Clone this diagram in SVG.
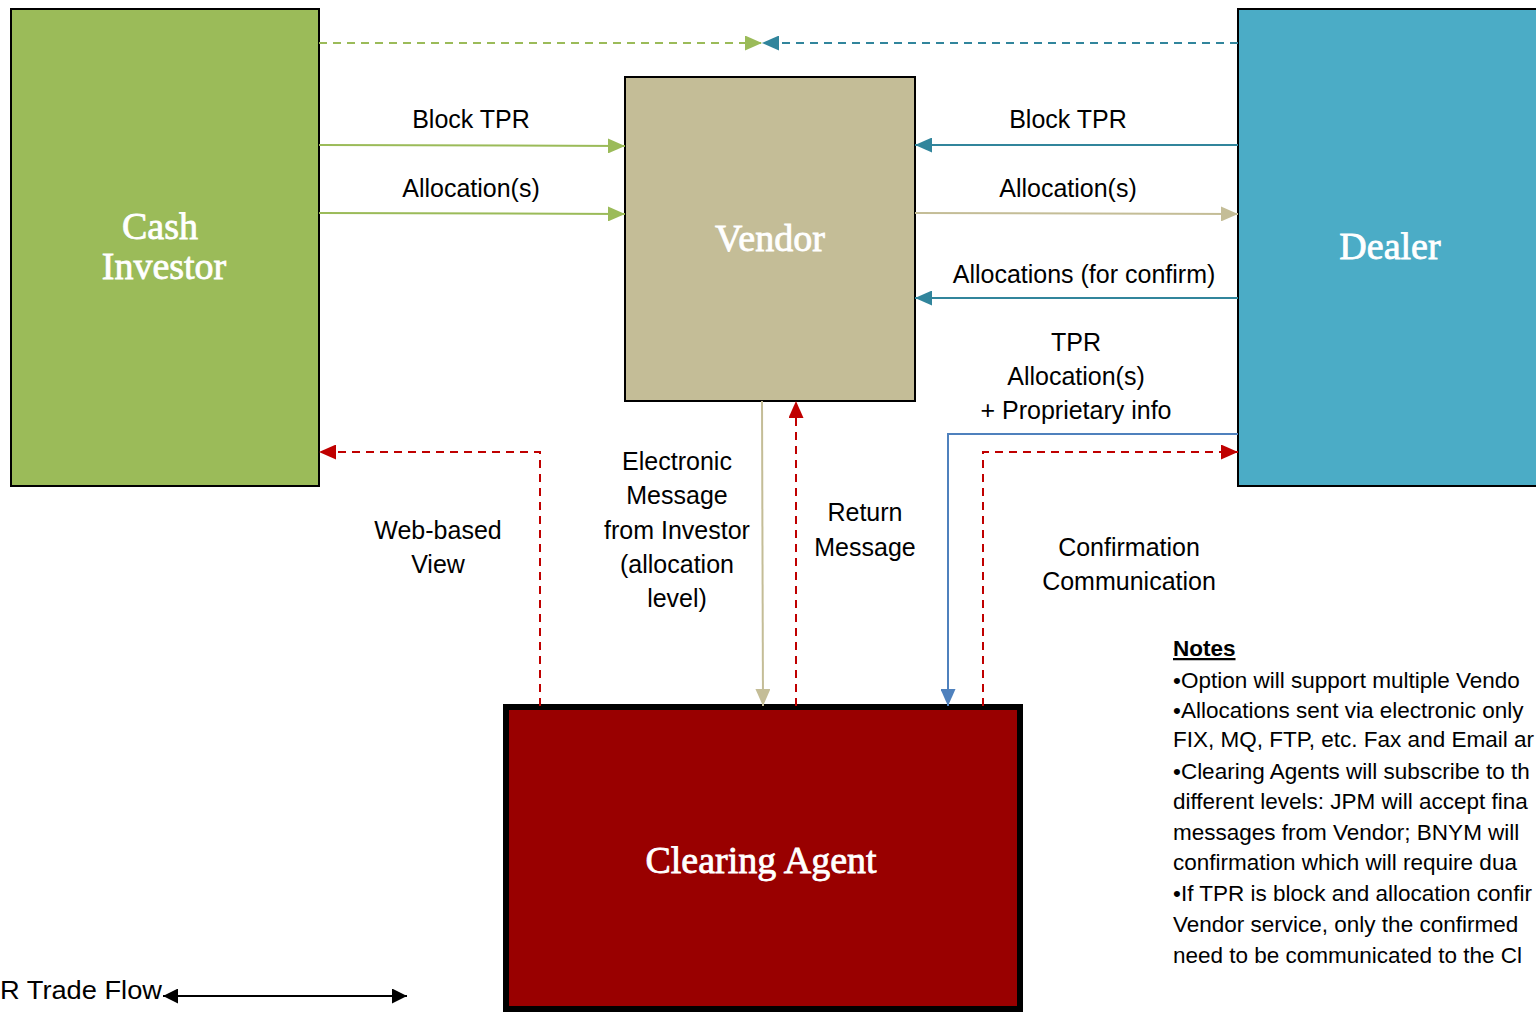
<svg xmlns="http://www.w3.org/2000/svg" width="1536" height="1013" viewBox="0 0 1536 1013">
<defs>
<style>
.title{font-family:"Liberation Serif",serif;font-size:38px;fill:#ffffff;stroke:#ffffff;stroke-width:0.8px;text-anchor:middle}
.lbl{font-family:"Liberation Sans",Arial,sans-serif;font-size:25px;fill:#000;text-anchor:middle}
.note{font-family:"Liberation Sans",Arial,sans-serif;font-size:22.5px;fill:#000}
.box{stroke:#000;stroke-width:2}
.ln{fill:none;stroke-width:2}
.dash{fill:none;stroke-width:2;stroke-dasharray:8 6}
</style>
<marker id="aGreen" viewBox="0 0 10 10" refX="10" refY="5" markerWidth="17" markerHeight="15" markerUnits="userSpaceOnUse" orient="auto" preserveAspectRatio="none"><path d="M0,0 L10,5 L0,10 z" fill="#9bbb59"/></marker>
<marker id="aTeal" viewBox="0 0 10 10" refX="10" refY="5" markerWidth="17" markerHeight="15" markerUnits="userSpaceOnUse" orient="auto" preserveAspectRatio="none"><path d="M0,0 L10,5 L0,10 z" fill="#31859c"/></marker>
<marker id="aTan" viewBox="0 0 10 10" refX="10" refY="5" markerWidth="17" markerHeight="15" markerUnits="userSpaceOnUse" orient="auto" preserveAspectRatio="none"><path d="M0,0 L10,5 L0,10 z" fill="#c4bd97"/></marker>
<marker id="aRed" viewBox="0 0 10 10" refX="10" refY="5" markerWidth="17" markerHeight="15" markerUnits="userSpaceOnUse" orient="auto" preserveAspectRatio="none"><path d="M0,0 L10,5 L0,10 z" fill="#c00000"/></marker>
<marker id="aBlue" viewBox="0 0 10 10" refX="10" refY="5" markerWidth="17" markerHeight="15" markerUnits="userSpaceOnUse" orient="auto" preserveAspectRatio="none"><path d="M0,0 L10,5 L0,10 z" fill="#4f81bd"/></marker>
<marker id="aBlack" viewBox="0 0 10 10" refX="10" refY="5" markerWidth="15" markerHeight="15" markerUnits="userSpaceOnUse" orient="auto" preserveAspectRatio="none"><path d="M0,0 L10,5 L0,10 z" fill="#000"/></marker>
</defs>
<rect width="1536" height="1013" fill="#ffffff"/>

<g id="cash-investor">
<rect class="box" x="11" y="9" width="308" height="477" fill="#9bbb59"/>
<text class="title" x="160" y="239">Cash</text>
<text class="title" x="164" y="279">Investor</text>
</g>
<g id="vendor">
<rect class="box" x="625" y="77" width="290" height="324" fill="#c4bd97"/>
<text class="title" x="770" y="251">Vendor</text>
</g>
<g id="dealer">
<rect class="box" x="1238" y="9" width="310" height="477" fill="#4bacc6"/>
<text class="title" x="1390" y="259">Dealer</text>
</g>
<g id="clearing-agent">
<rect x="506" y="707" width="514" height="302" fill="#990000" stroke="#000" stroke-width="6"/>
<text class="title" x="761" y="873">Clearing Agent</text>
</g>

<g id="connectors">
<line class="dash" x1="319" y1="43" x2="762" y2="43" stroke="#9bbb59" marker-end="url(#aGreen)"/>
<line class="dash" x1="1238" y1="43" x2="762" y2="43" stroke="#31859c" marker-end="url(#aTeal)"/>
<line class="ln" x1="319" y1="145" x2="625" y2="146" stroke="#9bbb59" marker-end="url(#aGreen)"/>
<line class="ln" x1="319" y1="213" x2="625" y2="214" stroke="#9bbb59" marker-end="url(#aGreen)"/>
<line class="ln" x1="1238" y1="145" x2="915" y2="145" stroke="#31859c" marker-end="url(#aTeal)"/>
<line class="ln" x1="915" y1="213" x2="1238" y2="214" stroke="#c4bd97" marker-end="url(#aTan)"/>
<line class="ln" x1="1238" y1="298" x2="915" y2="298" stroke="#31859c" marker-end="url(#aTeal)"/>
<polyline class="ln" points="1238,434 948,434 948,706" stroke="#4f81bd" marker-end="url(#aBlue)"/>
<polyline class="dash" points="983,706 983,452 1238,452" stroke="#c00000" marker-end="url(#aRed)"/>
<polyline class="dash" points="540,706 540,452 319,452" stroke="#c00000" marker-end="url(#aRed)"/>
<line class="ln" x1="762" y1="401" x2="763" y2="706" stroke="#c4bd97" marker-end="url(#aTan)"/>
<line class="dash" x1="796" y1="706" x2="796" y2="401" stroke="#c00000" marker-end="url(#aRed)"/>
<line class="ln" x1="175" y1="996" x2="407" y2="996" stroke="#000" marker-end="url(#aBlack)"/>
<line class="ln" x1="400" y1="996" x2="163" y2="996" stroke="#000" marker-end="url(#aBlack)"/>
</g>

<g id="labels">
<text class="lbl" x="471" y="128">Block TPR</text>
<text class="lbl" x="471" y="197">Allocation(s)</text>
<text class="lbl" x="1068" y="128">Block TPR</text>
<text class="lbl" x="1068" y="197">Allocation(s)</text>
<text class="lbl" x="1084" y="283">Allocations (for confirm)</text>
<text class="lbl" x="1076" y="351">TPR</text>
<text class="lbl" x="1076" y="385">Allocation(s)</text>
<text class="lbl" x="1076" y="419">+ Proprietary info</text>
<text class="lbl" x="438" y="539">Web-based</text>
<text class="lbl" x="438" y="573">View</text>
<text class="lbl" x="677" y="470">Electronic</text>
<text class="lbl" x="677" y="504">Message</text>
<text class="lbl" x="677" y="539">from Investor</text>
<text class="lbl" x="677" y="573">(allocation</text>
<text class="lbl" x="677" y="607">level)</text>
<text class="lbl" x="865" y="521">Return</text>
<text class="lbl" x="865" y="556">Message</text>
<text class="lbl" x="1129" y="556">Confirmation</text>
<text class="lbl" x="1129" y="590">Communication</text>
<text class="lbl" x="0" y="999" style="text-anchor:start" textLength="162" lengthAdjust="spacingAndGlyphs">R Trade Flow</text>
</g>

<g id="notes">
<text class="note" x="1173" y="656" font-weight="bold" text-decoration="underline">Notes</text>
<text class="note" x="1173" y="688">•Option will support  multiple Vendo</text>
<text class="note" x="1173" y="718">•Allocations sent via electronic only</text>
<text class="note" x="1173" y="747">FIX, MQ, FTP, etc.  Fax and Email ar</text>
<text class="note" x="1173" y="779">•Clearing Agents will subscribe to th</text>
<text class="note" x="1173" y="809">different levels: JPM will accept fina</text>
<text class="note" x="1173" y="840">messages from Vendor; BNYM will</text>
<text class="note" x="1173" y="870">confirmation which will require  dua</text>
<text class="note" x="1173" y="901">•If TPR is block and allocation confir</text>
<text class="note" x="1173" y="932">Vendor service, only the  confirmed</text>
<text class="note" x="1173" y="963">need to be communicated to the Cl</text>
</g>
</svg>
